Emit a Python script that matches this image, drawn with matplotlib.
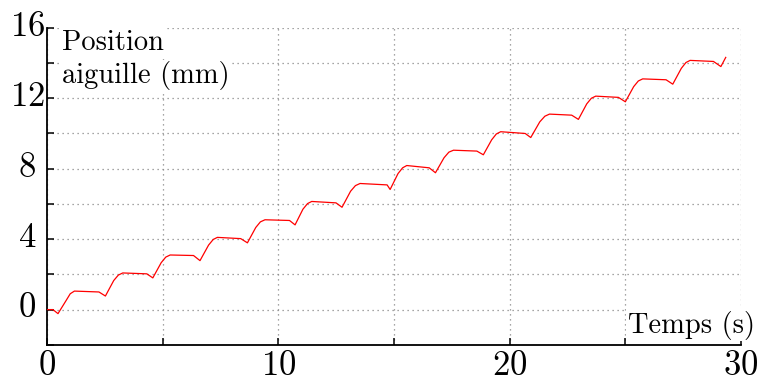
import matplotlib
matplotlib.use("Agg")
import matplotlib.pyplot as plt
import matplotlib.transforms as mtransforms
from matplotlib.ticker import MultipleLocator

plt.rcParams['font.family'] = 'serif'
plt.rcParams['font.serif'] = ['cmr10']
plt.rcParams['mathtext.fontset'] = 'cm'
plt.rcParams['axes.formatter.use_mathtext'] = True

# needle position vs time
temps = [0.00, 0.25, 0.47, 0.80, 1.00, 1.18, 2.24,
         2.52, 2.88, 3.08, 3.27, 4.31,
         4.57, 4.93, 5.13, 5.32, 6.33,
         6.61, 6.98, 7.18, 7.36, 8.37,
         8.66, 9.02, 9.22, 9.42, 10.48,
         10.72, 11.06, 11.26, 11.44, 12.49,
         12.75, 13.12, 13.33, 13.53, 14.70,
         14.83, 15.17, 15.37, 15.55, 16.52,
         16.79, 17.16, 17.37, 17.57, 18.58,
         18.86, 19.22, 19.42, 19.61, 20.67,
         20.91, 21.30, 21.52, 21.72, 22.68,
         22.97, 23.33, 23.53, 23.72, 24.70,
         25.00, 25.36, 25.56, 25.75, 26.76,
         27.05, 27.42, 27.62, 27.80, 28.81,
         29.13, 29.34]
position = [0.00, 0.00, -0.23, 0.47, 0.90, 1.05, 1.00,
            0.77, 1.65, 1.96, 2.08, 2.03,
            1.80, 2.66, 2.98, 3.10, 3.07,
            2.78, 3.66, 3.98, 4.10, 4.03,
            3.79, 4.66, 4.98, 5.10, 5.06,
            4.81, 5.70, 6.02, 6.14, 6.06,
            5.81, 6.72, 7.04, 7.16, 7.08,
            6.82, 7.72, 8.05, 8.18, 8.05,
            7.77, 8.62, 8.94, 9.05, 9.00,
            8.79, 9.64, 9.97, 10.10, 10.00,
            9.77, 10.66, 10.98, 11.10, 11.04,
            10.80, 11.68, 12.00, 12.12, 12.05,
            11.80, 12.66, 12.98, 13.10, 13.05,
            12.80, 13.70, 14.03, 14.15, 14.09,
            13.80, 14.32]

fig = plt.figure(figsize=(7.6, 3.81), dpi=100)
ax = fig.add_axes([0.062, 0.095, 0.913, 0.832])

ax.plot(temps, position, color='red', linewidth=0.9, zorder=3)

ax.set_xlim(0, 30)
ax.set_ylim(-2, 16)
ax.xaxis.set_major_locator(MultipleLocator(10))
ax.xaxis.set_minor_locator(MultipleLocator(5))
ax.yaxis.set_major_locator(MultipleLocator(4))
ax.yaxis.set_minor_locator(MultipleLocator(2))

ax.grid(True, which='both', linestyle=(0, (1, 3)), color='#888888', linewidth=0.9)
ax.set_axisbelow(True)

for side in ['top', 'right']:
    ax.spines[side].set_visible(False)
for side in ['left', 'bottom']:
    ax.spines[side].set_linewidth(1.3)

ax.tick_params(which='both', direction='in', length=5, width=1.1, labelsize=25)
ax.tick_params(axis='y', pad=14.4)
ax.tick_params(axis='x', pad=4)

# y labels are centred and sit a little above their ticks in the reference
shift = mtransforms.ScaledTranslation(0, 4.5 / 100, fig.dpi_scale_trans)
for lbl in ax.get_yticklabels():
    lbl.set_horizontalalignment('center')
    lbl.set_transform(lbl.get_transform() + shift)

box = dict(facecolor='white', edgecolor='none', pad=1)
ax.text(0.0216, 0.931, "Position", transform=ax.transAxes,
        fontsize=20.5, ha='left', va='baseline', bbox=box)
ax.text(0.0216, 0.826, "aiguille (mm)", transform=ax.transAxes,
        fontsize=20.5, ha='left', va='baseline', bbox=box)
ax.text(1.020, 0.038, "Temps (s)", transform=ax.transAxes,
        fontsize=20.5, ha='right', va='baseline', bbox=box)

fig.savefig('out.png', dpi=100)
